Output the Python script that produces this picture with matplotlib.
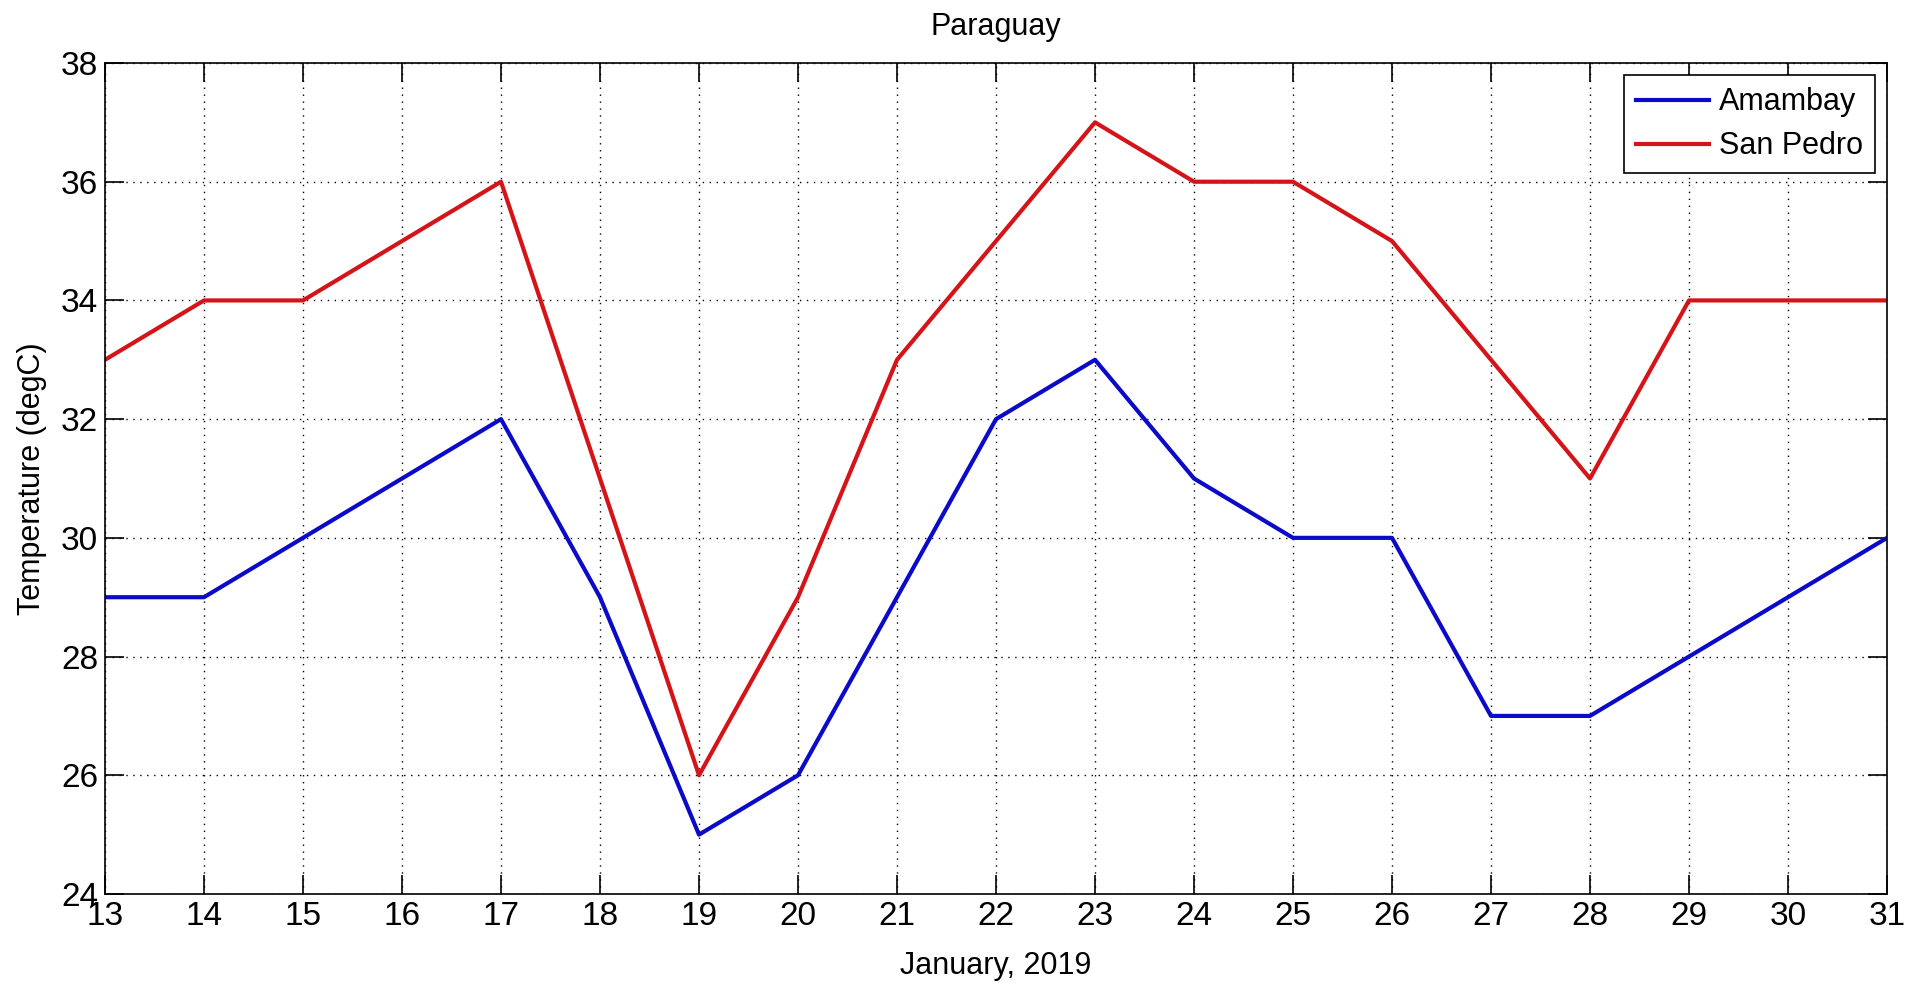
import matplotlib
matplotlib.use('Agg')
import matplotlib.pyplot as plt

plt.rcParams['font.family'] = ['Liberation Sans', 'DejaVu Sans']

days = list(range(13, 32))
amambay = [29, 29, 30, 31, 32, 29, 25, 26, 29, 32, 33, 31, 30, 30, 27, 27, 28, 29, 30]
san_pedro = [33, 34, 34, 35, 36, 31, 26, 29, 33, 35, 37, 36, 36, 35, 33, 31, 34, 34, 34]
yticks = list(range(24, 39, 2))

fig = plt.figure(figsize=(19.11, 9.86), dpi=100)
ax = fig.add_axes([105/1911, 1 - 894/986, (1887-105)/1911, (894-63)/986])

ax.plot(days, amambay, color='#0a0ac8', lw=3, label='Amambay')
ax.plot(days, san_pedro, color='#d41418', lw=3, label='San Pedro')

ax.set_xlim(13, 31)
ax.set_ylim(24, 38)
ax.set_xticks(days)
ax.set_yticks(yticks)
ax.tick_params(direction='in', length=14, width=1.2, labelsize=24, top=True, right=True, pad=5)
ax.grid(True, color='black', linestyle=(0, (1, 4)), linewidth=1)
for s in ax.spines.values():
    s.set_linewidth(1.2)

ax.set_title('Paraguay', fontsize=22, pad=20)
ax.set_xlabel('January, 2019', fontsize=22, labelpad=14)
ax.set_ylabel('Temperature (degC)', fontsize=22, labelpad=10)

leg = ax.legend(loc='upper right', fontsize=22, fancybox=False, framealpha=1,
                edgecolor='black', borderaxespad=0.4, handlelength=2.4,
                borderpad=0.4, labelspacing=0.45, handletextpad=0.3)
leg.get_frame().set_linewidth(1.2)

fig.savefig('out.png', dpi=100)
